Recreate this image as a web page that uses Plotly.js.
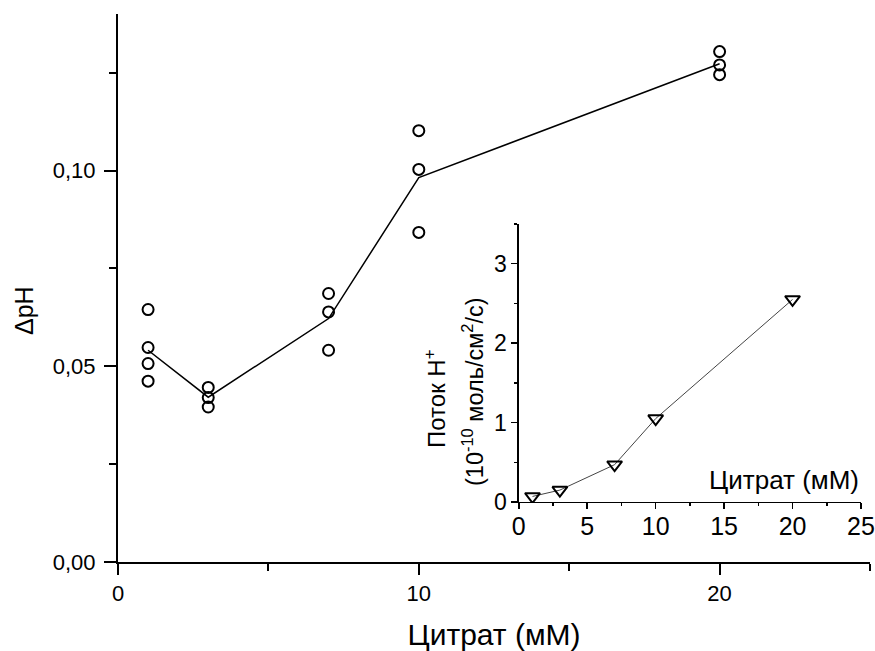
<!DOCTYPE html>
<html>
<head>
<meta charset="utf-8">
<script src="https://cdn.plot.ly/plotly-3.0.1.min.js"></script>
<style>html,body{margin:0;padding:0;background:#fff;}#chart{width:875px;height:651px;}</style>
</head>
<body>
<div id="chart"></div>
<script>
// Main panel: individual measurements
const replicateCitrate = [1,1,1,1, 3,3,3, 7,7,7, 10,10,10, 20,20,20];
const replicateDpH = [0.0645,0.0548,0.0507,0.0462, 0.0446,0.0420,0.0396, 0.0686,0.0639,0.0541, 0.1102,0.1003,0.0842, 0.1304,0.1270,0.1245];
// Main panel: mean line
const citrate = [1,3,7,10,20];
const meanDpH = [0.0541,0.0421,0.0622,0.0982,0.1273];
// Inset: proton flux
const flux = [0.07,0.15,0.47,1.05,2.55];

const xTitle = 'Цитрат (мМ)';
const yTitle = 'ΔpH';
const insetYTitle1 = 'Поток H<sup>+</sup>';
const insetYTitle2 = '(10<sup>-10</sup> моль/см<sup>2</sup>/с)';

const FONT = 'Liberation Sans, Arial, sans-serif';

const traces = [
  {x: citrate, y: meanDpH, mode: 'lines', line: {color: '#000', width: 1.5}, xaxis: 'x', yaxis: 'y', hoverinfo: 'skip'},
  {x: replicateCitrate, y: replicateDpH, mode: 'markers', xaxis: 'x', yaxis: 'y',
   marker: {symbol: 'circle-open', size: 11, color: '#000', line: {width: 2, color: '#000'}}},
  {x: citrate, y: flux, mode: 'lines+markers', xaxis: 'x2', yaxis: 'y2',
   line: {color: '#444', width: 1},
   marker: {symbol: 'triangle-down-open', size: 13, color: '#000', line: {width: 2, color: '#000'}}}
];

const axBase = {showgrid: false, zeroline: false, showline: true, linecolor: '#000', ticks: 'outside', tickcolor: '#000', tickfont: {family: FONT, size: 22, color: '#000'}};

const layout = {
  width: 875, height: 651,
  margin: {l: 118, r: 5, t: 14, b: 89},
  paper_bgcolor: '#fff', plot_bgcolor: 'rgba(0,0,0,0)',
  showlegend: false,
  separators: ', ',
  font: {family: FONT, color: '#000'},
  xaxis: Object.assign({}, axBase, {
    domain: [0, 1], range: [0, 25], dtick: 10, tick0: 0, ticklen: 11, tickwidth: 2, linewidth: 2,
    minor: {dtick: 5, ticklen: 7, tickwidth: 2, ticks: 'outside', tickcolor: '#000'},
    anchor: 'y',
    title: {text: xTitle, font: {family: FONT, size: 30, color: '#000'}, standoff: 20}
  }),
  yaxis: Object.assign({}, axBase, {
    domain: [0, 1], range: [0, 0.14], dtick: 0.05, tick0: 0, tickformat: '.2f', ticklen: 12, tickwidth: 2, linewidth: 2,
    minor: {dtick: 0.025, ticklen: 7, tickwidth: 2, ticks: 'outside', tickcolor: '#000'},
    anchor: 'x', ticklabelstandoff: 4
  }),
  xaxis2: Object.assign({}, axBase, {
    domain: [0.533, 0.988], range: [0, 25], dtick: 5, tick0: 0, ticklen: 6, tickwidth: 1.5, linewidth: 1.5,
    minor: {dtick: 2.5, ticklen: 3, tickwidth: 1.5, ticks: 'outside', tickcolor: '#000'},
    tickfont: {family: FONT, size: 25, color: '#000'}, ticklabelstandoff: -4,
    anchor: 'y2'
  }),
  yaxis2: Object.assign({}, axBase, {
    domain: [0.1095, 0.6168], range: [0, 3.5], dtick: 1, tick0: 0, ticklen: 6, tickwidth: 1.5, linewidth: 1.5,
    minor: {dtick: 0.5, ticklen: 3, tickwidth: 1.5, ticks: 'outside', tickcolor: '#000'},
    tickfont: {family: FONT, size: 23, color: '#000'},
    anchor: 'x2'
  }),
  annotations: [
    {text: yTitle, xref: 'paper', yref: 'paper', x: -0.125, y: 0.458, textangle: -90, showarrow: false,
     font: {family: FONT, size: 25, color: '#000'}, xanchor: 'center', yanchor: 'middle'},
    {text: xTitle, xref: 'x2', yref: 'y2', x: 25, y: 0.06, xanchor: 'right', yanchor: 'bottom', showarrow: false,
     font: {family: FONT, size: 26, color: '#000'}},
    {text: insetYTitle1, xref: 'paper', yref: 'paper', x: (435-118)/752, y: (562-399)/548, textangle: -90, showarrow: false,
     font: {family: FONT, size: 24, color: '#000'}, xanchor: 'center', yanchor: 'middle'},
    {text: insetYTitle2, xref: 'paper', yref: 'paper', x: (473-118)/752, y: (562-392)/548, textangle: -90, showarrow: false,
     font: {family: FONT, size: 23.5, color: '#000'}, xanchor: 'center', yanchor: 'middle'}
  ]
};

Plotly.newPlot('chart', traces, layout, {staticPlot: true, displayModeBar: false});
</script>
</body>
</html>
